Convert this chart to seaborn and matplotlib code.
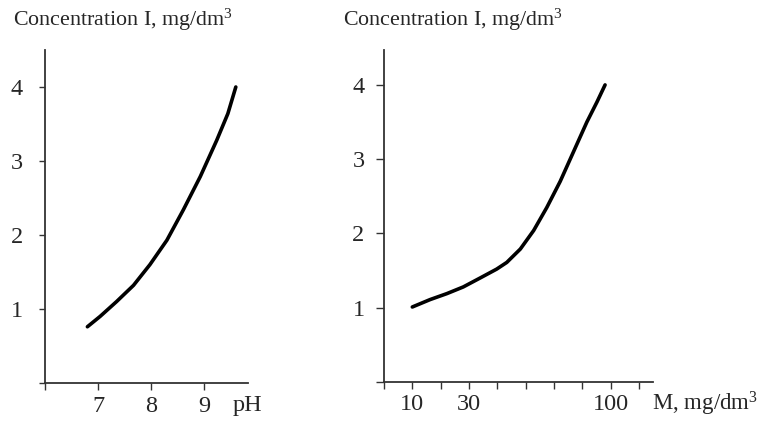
import numpy as np
import matplotlib
matplotlib.use("Agg")
import matplotlib.pyplot as plt
import seaborn as sns

# values
ph = [6.80, 7.04, 7.35, 7.67, 7.98, 8.30, 8.61, 8.93, 9.24, 9.45, 9.60]
conc_ph = [0.76, 0.90, 1.10, 1.32, 1.60, 1.93, 2.34, 2.79, 3.28, 3.64, 4.0]

m_vals = [10, 16.3, 22.2, 28, 35.5, 43.7, 48.7, 55.4, 62, 68.5, 75.1, 81.7, 88.3, 93.3, 97.3]
conc_m = [1.01, 1.11, 1.19, 1.28, 1.40, 1.52, 1.61, 1.79, 2.04, 2.35, 2.70, 3.10, 3.50, 3.77, 4.0]

ph_ticks = [6, 7, 8, 9]
ph_labels = ["", "7", "8", "9"]
conc_ticks = [0, 1, 2, 3, 4]
conc_labels = ["", "1", "2", "3", "4"]
m_tick_labels = ["", "10", "", "30", "", "", "", "", "100", ""]

ylabel = "Concentration I, mg/dm$^3$"

sns.set_style("ticks")
plt.rcParams["font.family"] = ["Liberation Serif", "DejaVu Serif"]
plt.rcParams["font.size"] = 17.5
plt.rcParams["mathtext.fontset"] = "custom"
plt.rcParams["mathtext.rm"] = "Liberation Serif"
plt.rcParams["mathtext.default"] = "regular"

fig = plt.figure(figsize=(7.6, 4.21), dpi=100)
ax1 = fig.add_axes([45 / 760, 1 - 383 / 421, 203 / 760, 333 / 421])
ax2 = fig.add_axes([384 / 760, 1 - 382 / 421, 269 / 760, 332 / 421])

axis_col = "#333333"

# left panel: concentration vs pH
sns.lineplot(x=ph, y=conc_ph, ax=ax1, color="black", lw=2.6)
ax1.set_xlim(6, 9.83)
ax1.set_ylim(0, 4.5)
ax1.set_xticks(ph_ticks, ph_labels)
ax1.set_yticks(conc_ticks, conc_labels)
ax1.tick_params(axis="y", length=4, pad=12, width=1, color=axis_col, labelsize=17.5)
ax1.tick_params(axis="x", length=5, pad=4, width=1, color=axis_col, labelsize=17.5)

# right panel: concentration vs M (axis is not linear in M)
m_knots = [0, 10, 30, 100, 121]
pos_knots = [0, 1, 3, 8, 9.5]


def fwd(m):
    return np.interp(m, m_knots, pos_knots)


def inv(p):
    return np.interp(p, pos_knots, m_knots)


ax2.set_xscale("function", functions=(fwd, inv))
sns.lineplot(x=m_vals, y=conc_m, ax=ax2, color="black", lw=2.6)
ax2.set_xlim(0, 121)
ax2.set_ylim(0, 4.47)
ax2.set_xticks(inv(np.arange(10)), m_tick_labels)
ax2.set_yticks(conc_ticks, conc_labels)
ax2.tick_params(axis="y", length=6, pad=8, width=1, color=axis_col, labelsize=17.5)
ax2.tick_params(axis="x", length=5, pad=4, width=1, color=axis_col, labelsize=17.5)

for ax in (ax1, ax2):
    for s in ("top", "right"):
        ax.spines[s].set_visible(False)
    for s in ("left", "bottom"):
        ax.spines[s].set_color(axis_col)
        ax.spines[s].set_linewidth(1.3)
    ax.set_xlabel("")
    ax.set_ylabel("")

fig.text(13 / 760, 1 - 26 / 421, ylabel, fontsize=15.8, va="baseline")
fig.text(343 / 760, 1 - 26 / 421, ylabel, fontsize=15.8, va="baseline")
fig.text(233 / 760, 1 - 411 / 421, "pH", va="baseline")
fig.text(652 / 760, 1 - 411 / 421, "M, mg/dm$^3$", fontsize=16.5, va="baseline")

fig.savefig("out.png", dpi=100)
plt.close()
